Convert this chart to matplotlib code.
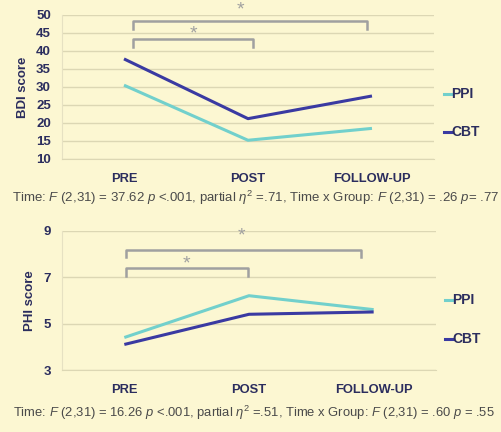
import matplotlib.pyplot as plt
from matplotlib.lines import Line2D

# Group means at each time point
timepoints = ['PRE', 'POST', 'FOLLOW-UP']
bdi_ppi = [30.5, 15.2, 18.5]
bdi_cbt = [37.8, 21.2, 27.5]
phi_ppi = [4.4, 6.2, 5.6]
phi_cbt = [4.1, 5.4, 5.5]

bdi_ticks = [10, 15, 20, 25, 30, 35, 40, 45, 50]
phi_ticks = [3, 5, 7, 9]

bdi_stats = (r"Time: $F$ (2,31) = 37.62 $p$ <.001, partial $\eta^2$ =.71, "
             r"Time x Group: $F$ (2,31) = .26 $p$= .77")
phi_stats = (r"Time: $F$ (2,31) = 16.26 $p$ <.001, partial $\eta^2$ =.51, "
             r"Time x Group: $F$ (2,31) = .60 $p$ = .55")

plt.rcParams['font.family'] = ['Liberation Sans', 'DejaVu Sans']
plt.rcParams['mathtext.fontset'] = 'custom'
plt.rcParams['mathtext.rm'] = 'Liberation Sans'
plt.rcParams['mathtext.it'] = 'Liberation Sans:italic'

bg = '#fcf7d2'
navy = '#2b2d5e'
grid_col = '#dcd7b4'
ppi_col = '#72d0cc'
cbt_col = '#3a3aa2'
brk_col = '#a0a0a0'

fig = plt.figure(figsize=(5.02, 4.32), dpi=100, facecolor=bg)
ax1 = fig.add_axes([0.1235, 0.632, 0.741, 0.3333])
ax2 = fig.add_axes([0.1235, 0.1435, 0.745, 0.3225])


def style_axis(ax, ticks, ylabel):
    ax.set_facecolor(bg)
    ax.set_xlim(-0.5, 2.5)
    ax.set_ylim(ticks[0], ticks[-1])
    ax.set_yticks(ticks)
    ax.set_xticks(range(len(timepoints)))
    ax.set_xticklabels(timepoints)
    ax.yaxis.grid(True, color=grid_col, lw=1.0)
    ax.set_axisbelow(True)
    for side in ['top', 'right']:
        ax.spines[side].set_visible(False)
    ax.spines['left'].set_color('#e6e1c2')
    ax.spines['bottom'].set_color(grid_col)
    ax.tick_params(axis='y', length=0, colors=navy, labelsize=9.5, pad=8)
    ax.tick_params(axis='x', length=0, colors=navy, labelsize=9.3, pad=10)
    for lbl in ax.get_xticklabels() + ax.get_yticklabels():
        lbl.set_fontweight('bold')
    ax.set_ylabel(ylabel, color=navy, fontsize=9.5, fontweight='bold', labelpad=5)


def bracket(ax, x0, x1, y, drop):
    ax.plot([x0, x0, x1, x1], [y - drop, y, y, y - drop], color=brk_col,
            lw=1.8, clip_on=False, solid_joinstyle='round')


def legend(ax, y_ppi, y_cbt, x0):
    for y, col, name in [(y_ppi, ppi_col, 'PPI'), (y_cbt, cbt_col, 'CBT')]:
        ax.add_line(Line2D([x0, x0 + 0.021], [y, y], color=col, lw=2.2,
                           transform=ax.transAxes, clip_on=False))
        ax.text(x0 + 0.02, y, name, transform=ax.transAxes, color=navy,
                fontsize=10, fontweight='bold', va='center', ha='left')


# BDI panel
style_axis(ax1, bdi_ticks, 'BDI score')
ax1.plot(range(3), bdi_ppi, color=ppi_col, lw=2.2, solid_capstyle='butt')
ax1.plot(range(3), bdi_cbt, color=cbt_col, lw=2.2, solid_capstyle='butt')
bracket(ax1, 0.07, 1.96, 48.3, 2.2)
bracket(ax1, 0.07, 1.04, 43.4, 2.2)
ax1.text(0.94, 51.3, '*', color=brk_col, fontsize=14, ha='center', va='center', clip_on=False)
ax1.text(0.56, 44.6, '*', color=brk_col, fontsize=14, ha='center', va='center')
legend(ax1, 0.451, 0.1875, 1.027)
fig.text(12 / 502, 1 - 198 / 432, bdi_stats, ha='left', va='center', color='#4a4a4a', fontsize=9.55)

# PHI panel
style_axis(ax2, phi_ticks, 'PHI score')
ax2.plot(range(3), phi_ppi, color=ppi_col, lw=2.2, solid_capstyle='butt')
ax2.plot(range(3), phi_cbt, color=cbt_col, lw=2.2, solid_capstyle='butt')
bracket(ax2, 0.01, 1.9, 8.17, 0.3)
bracket(ax2, 0.01, 0.99, 7.38, 0.33)
ax2.text(0.94, 8.78, '*', color=brk_col, fontsize=14, ha='center', va='center', clip_on=False)
ax2.text(0.5, 7.55, '*', color=brk_col, fontsize=14, ha='center', va='center')
legend(ax2, 0.503, 0.223, 1.024)
fig.text(13 / 502, 1 - 413 / 432, phi_stats, ha='left', va='center', color='#4a4a4a', fontsize=9.4)

fig.savefig('out.png', dpi=100, facecolor=bg)
